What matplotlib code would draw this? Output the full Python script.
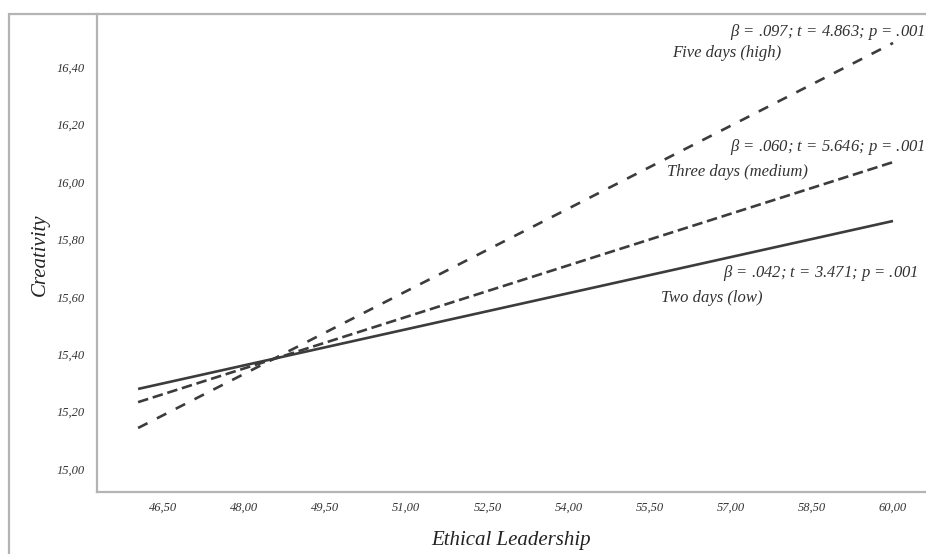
import matplotlib.pyplot as plt
from matplotlib.patches import Rectangle

# simple slopes: predicted creativity at low / high ethical leadership
x_ends = [46.04, 60.0]
low_days = [15.279, 15.864]
medium_days = [15.233, 16.069]
high_days = [15.143, 16.484]

x_ticks = [46.5, 48.0, 49.5, 51.0, 52.5, 54.0, 55.5, 57.0, 58.5, 60.0]
y_ticks = [15.0, 15.2, 15.4, 15.6, 15.8, 16.0, 16.2, 16.4]

plt.rcParams['font.family'] = ['Liberation Serif', 'DejaVu Serif']
plt.rcParams['mathtext.fontset'] = 'custom'
plt.rcParams['mathtext.it'] = 'Liberation Serif:italic'

fig = plt.figure(figsize=(9.26, 5.54), dpi=100)
W, H = 926, 554
ax = fig.add_axes([97/W, 1-492/H, (926-97)/W, (492-14)/H])

c = '#3c3c3c'
ax.plot(x_ends, low_days, color=c, lw=1.9, solid_capstyle='butt')
ax.plot(x_ends, medium_days, color=c, lw=1.9, dashes=(4, 1.8), dash_capstyle='butt')
ax.plot(x_ends, high_days, color=c, lw=1.9, dashes=(4, 4), dash_capstyle='butt')

ax.set_xlim(45.28, 60.61)
ax.set_ylim(14.92, 16.585)
ax.set_xticks(x_ticks)
ax.set_yticks(y_ticks)
ax.set_xticklabels([f'{v:.2f}'.replace('.', ',') for v in x_ticks])
ax.set_yticklabels([f'{v:.2f}'.replace('.', ',') for v in y_ticks])
ax.tick_params(length=0, labelsize=9, labelcolor='#333333')
ax.tick_params(axis='y', pad=9)
ax.tick_params(axis='x', pad=7)
for lab in ax.get_xticklabels() + ax.get_yticklabels():
    lab.set_style('italic')

for s in ['top', 'right']:
    ax.spines[s].set_visible(False)
for s in ['left', 'bottom']:
    ax.spines[s].set_color('#b4b4b4')
    ax.spines[s].set_linewidth(1.6)

ax.set_xlabel('Ethical Leadership', fontsize=15, style='italic', color='#222222')
ax.set_ylabel('Creativity', fontsize=15, style='italic', color='#222222')
ax.xaxis.set_label_coords(0.5, -0.081)
ax.yaxis.set_label_coords(-0.057, 0.496)

# slope annotations
tk = dict(fontsize=12, style='italic', color='#333333', va='center')
ax.text(60.59, 16.522, r'$\beta$ = .097; $t$ = 4.863; $p$ = .001', ha='right', **tk)
ax.text(55.91, 16.449, 'Five days (high)', ha='left', **tk)
ax.text(60.59, 16.122, r'$\beta$ = .060; $t$ = 5.646; $p$ = .001', ha='right', **tk)
ax.text(55.82, 16.035, 'Three days (medium)', ha='left', **tk)
ax.text(60.46, 15.684, r'$\beta$ = .042; $t$ = 3.471; $p$ = .001', ha='right', **tk)
ax.text(55.71, 15.597, 'Two days (low)', ha='left', **tk)

# outer frame
fig.patches.append(Rectangle((9/W, -0.1), 1.2, 1 - 13.5/H + 0.1, transform=fig.transFigure,
                             fill=False, ec='#b4b4b4', lw=1.6))

fig.savefig('out.png', dpi=100)
